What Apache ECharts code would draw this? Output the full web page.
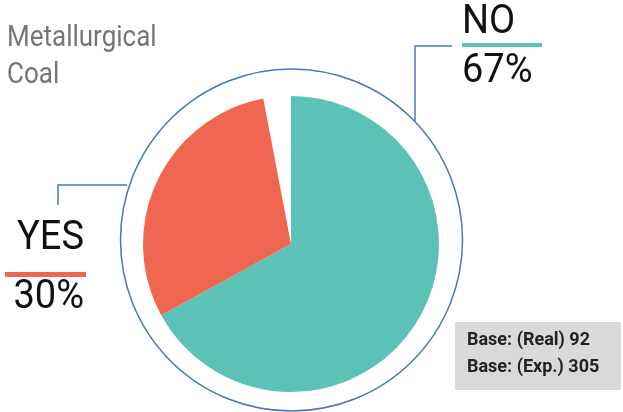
<!DOCTYPE html>
<html>
<head>
<meta charset="utf-8">
<script src="https://cdn.jsdelivr.net/npm/echarts@6/dist/echarts.min.js"></script>
<style>
html,body{margin:0;padding:0;background:#fff;}
#chart{width:623px;height:412px;}
</style>
</head>
<body>
<div id="chart"></div>
<script>
const title = ['Metallurgical', 'Coal'];
const categories = ['NO', 'YES', ''];
const values = [67, 30, 3];
const colors = ['#5cc2b5', '#ef6651', 'rgba(0,0,0,0)'];
const baseLines = ['Base: (Real) 92', 'Base: (Exp.) 305'];

const chart = echarts.init(document.getElementById('chart'), null, {renderer: 'canvas'});
const lineBlue = '#4a74c6';
const bigFont = '38px Roboto';

function txt(text, x, y, font, fill, align, sy) {
  return {
    type: 'text', originX: x, originY: y, scaleY: sy || 1.08,
    style: {text: text, x: x, y: y, font: font, fill: fill, verticalAlign: 'middle', align: align || 'left'}
  };
}

chart.setOption({
  animation: false,
  backgroundColor: '#ffffff',
  series: [{
    type: 'pie',
    center: [291, 244],
    radius: [0, 148],
    startAngle: 90,
    clockwise: true,
    silent: true,
    label: {show: false},
    labelLine: {show: false},
    data: categories.map((c, i) => ({
      name: c || 'other',
      value: values[i],
      itemStyle: {color: colors[i], borderWidth: 0}
    }))
  }],
  graphic: [
    {type: 'circle', shape: {cx: 291.5, cy: 240, r: 171}, style: {fill: 'none', stroke: lineBlue, lineWidth: 1.5}, z: 10},
    {type: 'polyline', shape: {points: [[452, 46], [415, 46], [415, 121]]}, style: {fill: 'none', stroke: lineBlue, lineWidth: 1.5}},
    {type: 'polyline', shape: {points: [[58, 205], [58, 185], [127, 185]]}, style: {fill: 'none', stroke: lineBlue, lineWidth: 1.5}},
    txt(title[0], 7, 39, '26px Roboto', '#767676', 'left', 1.1),
    txt(title[1], 7, 76, '26px Roboto', '#767676', 'left', 1.1),
    txt(categories[0], 462, 23, bigFont, '#111'),
    {type: 'rect', shape: {x: 462, y: 43, width: 80, height: 4}, style: {fill: colors[0]}},
    txt(values[0] + '%', 462, 72, bigFont, '#111'),
    txt(categories[1], 84, 239, bigFont, '#111', 'right'),
    {type: 'rect', shape: {x: 5, y: 272, width: 81, height: 5}, style: {fill: colors[1]}},
    txt(values[1] + '%', 84, 298, bigFont, '#111', 'right'),
    {type: 'rect', shape: {x: 455, y: 322, width: 166, height: 68}, style: {fill: '#d9d9d9'}},
    txt(baseLines[0], 467, 340, 'bold 18px Roboto', '#222', 'left', 1.05),
    txt(baseLines[1], 467, 367, 'bold 18px Roboto', '#222', 'left', 1.05)
  ]
});
</script>
</body>
</html>
